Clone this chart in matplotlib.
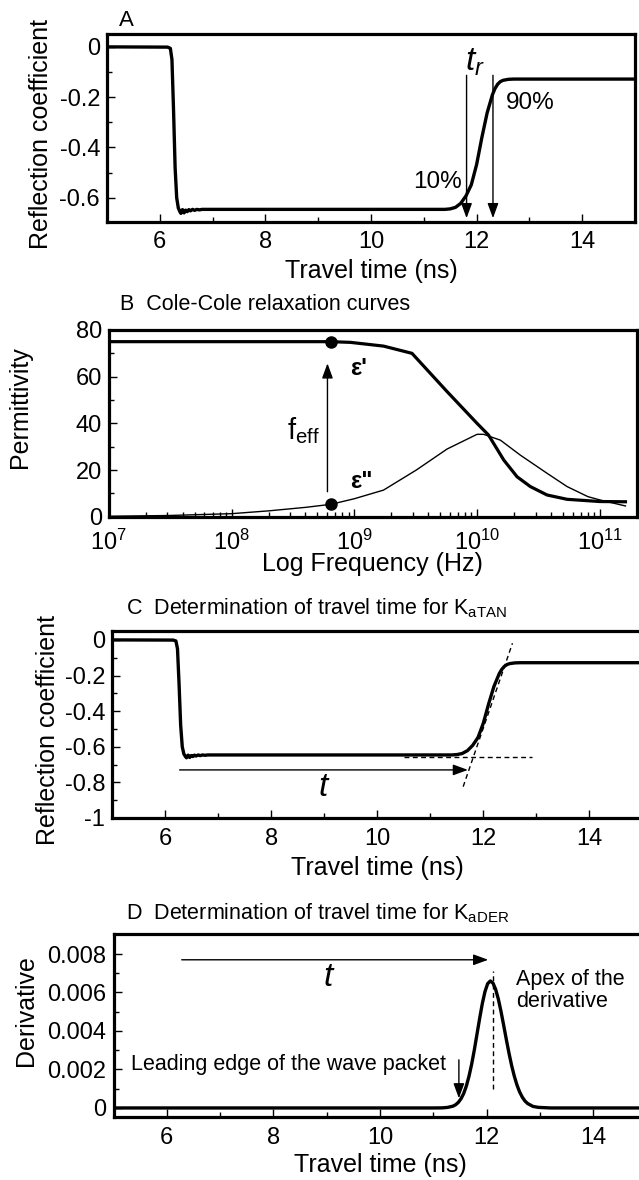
import matplotlib
matplotlib.use('Agg')
import matplotlib.pyplot as plt
from matplotlib.ticker import MultipleLocator, FixedLocator, FuncFormatter, LogLocator, NullFormatter

plt.rcParams['font.family'] = ['Liberation Sans', 'DejaVu Sans']
plt.rcParams['mathtext.fontset'] = 'custom'
plt.rcParams['mathtext.rm'] = 'Liberation Sans'
plt.rcParams['mathtext.it'] = 'Liberation Sans:italic'
plt.rcParams['mathtext.bf'] = 'Liberation Sans:bold'
plt.rcParams['axes.unicode_minus'] = False

# ---------------- data ----------------
# Panels A and C: reflection coefficient vs travel time (ns)
step_time = [5.0, 6.15, 6.20, 6.23, 6.26, 6.29, 6.32, 6.35, 6.38, 6.40, 6.43, 6.46,
             6.49, 6.52, 6.55, 6.58, 6.62, 6.66, 6.70, 6.75, 6.80, 7.0,
             11.3, 11.4, 11.5, 11.6, 11.7, 11.8, 11.9, 12.0, 12.1, 12.2, 12.3,
             12.35, 12.4, 12.45, 12.5, 12.6, 12.7, 12.8, 15.0]
step_refl = [0.0, -0.001, -0.006, -0.05, -0.25, -0.48, -0.60, -0.64, -0.655, -0.662, -0.647, -0.66,
             -0.649, -0.655, -0.647, -0.652, -0.646, -0.650, -0.646, -0.648, -0.646, -0.646,
             -0.646, -0.646, -0.644, -0.638, -0.622, -0.592, -0.548, -0.468, -0.36, -0.262, -0.19,
             -0.165, -0.148, -0.138, -0.133, -0.129, -0.128, -0.128, -0.128]

# Panel B: Cole-Cole relaxation curves
freq_real = [1e7, 1e8, 3e8, 6.44e8, 9.3e8, 1.73e9, 2.95e9, 5.7e9, 1e10, 1.24e10, 1.65e10,
             2.12e10, 2.72e10, 3.72e10, 5.42e10, 1e11, 1.62e11]
eps_real = [75.0, 75.0, 75.0, 75.0, 74.7, 73.1, 70.0, 53.6, 40.0, 35.0, 24.3,
            17.1, 12.9, 9.3, 7.45, 6.5, 6.4]
freq_imag = [1e7, 3e7, 1e8, 2e8, 4e8, 6.44e8, 1e9, 1.73e9, 3.2e9, 5.7e9, 1e10, 1.13e10,
             1.55e10, 2.25e10, 3.72e10, 5.42e10, 8e10, 1e11, 1.62e11]
eps_imag = [0.2, 0.5, 1.3, 2.5, 4.0, 5.3, 7.7, 11.4, 20.0, 29.0, 35.3, 35.3,
            32.8, 26.4, 18.6, 12.9, 8.6, 7.2, 4.6]
f_eff = 6.44e8
f_eff_points = [75.0, 5.3]

# Panel D: derivative of the reflection coefficient
der_time = [5.0, 11.0, 11.17, 11.27, 11.37, 11.42, 11.47, 11.52, 11.57, 11.62, 11.67, 11.72,
            11.77, 11.82, 11.87, 11.92, 11.97, 12.02, 12.07, 12.12, 12.17, 12.22,
            12.27, 12.32, 12.37, 12.42, 12.47, 12.52, 12.57, 12.62, 12.67, 12.72,
            12.77, 12.87, 12.97, 13.2, 15.0]
der_value = [0.0, 0.0, 0.000005, 0.00003, 0.000094, 0.00017, 0.00029, 0.00048, 0.00075, 0.00114,
             0.00165, 0.00228, 0.00302, 0.00384, 0.00466, 0.00543, 0.00605, 0.00646, 0.0066,
             0.00649, 0.00616, 0.00566, 0.00502, 0.0043, 0.00356, 0.00285, 0.0022, 0.00165,
             0.00119, 0.00083, 0.00056, 0.00036, 0.00023, 0.00008, 0.00003, 0.0, 0.0]

# annotation values
rise_10 = 11.81
rise_90 = 12.31
tan_baseline = -0.659
tangent_t = [11.62, 12.55]
tangent_r = [-0.824, -0.019]
t_arrow_C = [6.27, 11.71]
t_arrow_D = [6.28, 12.03]
apex_time = 12.125
leading_edge = 11.48

# ---------------- figure ----------------
fig = plt.figure(figsize=(6.39, 11.8), dpi=100)
W, H = 639.0, 1180.0


def rect(l, t, r, b):
    return [l / W, 1 - b / H, (r - l) / W, (b - t) / H]


axA = fig.add_axes(rect(107, 34.3, 635, 221.7))
axB = fig.add_axes(rect(108.9, 330, 636.7, 516.7))
axC = fig.add_axes(rect(112.3, 631, 642.3, 818))
axD = fig.add_axes(rect(113.5, 934, 646.5, 1117))

fmt = FuncFormatter(lambda v, p: ('%g' % round(v, 6)))


def style(ax):
    for s in ax.spines.values():
        s.set_linewidth(2.3)
    ax.tick_params(which='both', direction='in', top=False, right=False,
                   width=1.0, labelsize=17)
    ax.tick_params(which='major', length=6)
    ax.tick_params(which='minor', length=3.5)
    ax.tick_params(axis='x', pad=7)
    ax.tick_params(axis='y', pad=5)


arrow_kw = dict(arrowstyle='-|>,head_length=0.6,head_width=0.22', color='black',
                lw=1.0, shrinkA=0, shrinkB=0, mutation_scale=15)
dash = (0, (3.5, 2.5))

# ---- Panel A ----
ax = axA
style(ax)
ax.plot(step_time, step_refl, color='black', lw=2.4)
ax.set_xlim(5, 15)
ax.set_ylim(-0.695, 0.05)
ax.xaxis.set_major_locator(FixedLocator([6, 8, 10, 12, 14]))
ax.xaxis.set_minor_locator(MultipleLocator(1))
ax.yaxis.set_major_locator(FixedLocator([0, -0.2, -0.4, -0.6]))
ax.yaxis.set_minor_locator(FixedLocator([-0.1, -0.3, -0.5]))
ax.yaxis.set_major_formatter(fmt)
ax.set_xlabel('Travel time (ns)', fontsize=18)
ax.set_ylabel('Reflection coefficient', fontsize=18)
ax.xaxis.set_label_coords(0.5, -0.20)
ax.yaxis.set_label_coords(-0.102, 0.47)
for xv in (rise_10, rise_90):
    ax.annotate('', xy=(xv, -0.681), xytext=(xv, -0.113), arrowprops=arrow_kw)
ax.text(11.97, -0.06, '$t_r$', fontsize=24, ha='center', va='center')
ax.text(11.73, -0.537, '10%', fontsize=17.5, ha='right', va='center')
ax.text(12.55, -0.225, '90%', fontsize=17.5, ha='left', va='center')
fig.text(119 / W, 1 - 20 / H, 'A', fontsize=16, va='center')

# ---- Panel B ----
ax = axB
style(ax)
ax.tick_params(axis='x', pad=9)
ax.set_xscale('log')
ax.plot(freq_real, eps_real, color='black', lw=2.3)
ax.plot(freq_imag, eps_imag, color='black', lw=1.0)
ax.plot([f_eff, f_eff], f_eff_points, 'o', color='black', ms=8)
ax.annotate('', xy=(6.04e8, 65.7), xytext=(6.04e8, 10.7), arrowprops=arrow_kw)
ax.set_xlim(1e7, 2e11)
ax.set_ylim(0, 80)
ax.xaxis.set_major_locator(LogLocator(base=10, numticks=10))
ax.xaxis.set_minor_locator(LogLocator(base=10, subs=range(2, 10), numticks=20))
ax.xaxis.set_minor_formatter(NullFormatter())
ax.yaxis.set_major_locator(MultipleLocator(20))
ax.yaxis.set_minor_locator(MultipleLocator(10))
ax.set_xlabel('Log Frequency (Hz)', fontsize=18)
ax.set_ylabel('Permittivity', fontsize=18)
ax.xaxis.set_label_coords(0.5, -0.19)
ax.yaxis.set_label_coords(-0.145, 0.586)
ax.text(9.3e8, 63.6, "ε'", fontsize=17, fontweight='bold', ha='left', va='center')
ax.text(9.3e8, 15.0, 'ε"', fontsize=17, fontweight='bold', ha='left', va='center')
ax.text(2.82e8, 36.8, 'f$_{\\mathrm{eff}}$', fontsize=21, ha='left', va='center')
fig.text(120 / W, 1 - 305 / H, 'B  Cole-Cole relaxation curves', fontsize=15.5, va='center')

# ---- Panel C ----
ax = axC
style(ax)
ax.plot(step_time, step_refl, color='black', lw=2.4)
ax.plot([10.5, 12.91], [tan_baseline, tan_baseline], color='black', lw=1.0, ls=dash)
ax.plot(tangent_t, tangent_r, color='black', lw=1.0, ls=dash)
ax.annotate('', xy=(t_arrow_C[1], -0.730), xytext=(t_arrow_C[0], -0.730), arrowprops=arrow_kw)
ax.text(9.0, -0.83, '$t$', fontsize=24, ha='center', va='center')
ax.set_xlim(5, 15)
ax.set_ylim(-1, 0.05)
ax.xaxis.set_major_locator(FixedLocator([6, 8, 10, 12, 14]))
ax.xaxis.set_minor_locator(MultipleLocator(1))
ax.yaxis.set_major_locator(FixedLocator([0, -0.2, -0.4, -0.6, -0.8, -1.0]))
ax.yaxis.set_minor_locator(FixedLocator([-0.1, -0.3, -0.5, -0.7, -0.9]))
ax.yaxis.set_major_formatter(fmt)
ax.set_xlabel('Travel time (ns)', fontsize=18)
ax.set_ylabel('Reflection coefficient', fontsize=18)
ax.xaxis.set_label_coords(0.5, -0.205)
ax.yaxis.set_label_coords(-0.098, 0.47)
fig.text(126 / W, 1 - 608 / H, 'C  Determination of travel time for K$_{\\mathrm{aTAN}}$',
         fontsize=15.5, va='center')

# ---- Panel D ----
ax = axD
style(ax)
ax.plot(der_time, der_value, color='black', lw=2.4)
ax.plot([apex_time, apex_time], [0.001, 0.0071], color='black', lw=1.0, ls=dash)
ax.annotate('', xy=(t_arrow_D[1], 0.0077), xytext=(t_arrow_D[0], 0.0077), arrowprops=arrow_kw)
ax.text(9.04, 0.0068, '$t$', fontsize=24, ha='center', va='center')
ax.text(12.545, 0.00722, 'Apex of the\nderivative', fontsize=15.5, ha='left', va='top',
        linespacing=1.05)
ax.text(5.33, 0.00225, 'Leading edge of the wave packet', fontsize=15.5, ha='left', va='center')
ax.annotate('', xy=(leading_edge, 0.0005), xytext=(leading_edge, 0.0025), arrowprops=arrow_kw)
ax.set_xlim(5, 15)
ax.set_ylim(-0.00047, 0.00904)
ax.xaxis.set_major_locator(FixedLocator([6, 8, 10, 12, 14]))
ax.xaxis.set_minor_locator(MultipleLocator(1))
ax.yaxis.set_major_locator(FixedLocator([0, 0.002, 0.004, 0.006, 0.008]))
ax.yaxis.set_minor_locator(FixedLocator([0.001, 0.003, 0.005, 0.007]))
ax.yaxis.set_major_formatter(fmt)
ax.set_xlabel('Travel time (ns)', fontsize=18)
ax.set_ylabel('Derivative', fontsize=18)
ax.xaxis.set_label_coords(0.5, -0.197)
ax.yaxis.set_label_coords(-0.142, 0.58)
fig.text(126 / W, 1 - 913 / H, 'D  Determination of travel time for K$_{\\mathrm{aDER}}$',
         fontsize=15.5, va='center')

fig.savefig('out.png', dpi=100)
